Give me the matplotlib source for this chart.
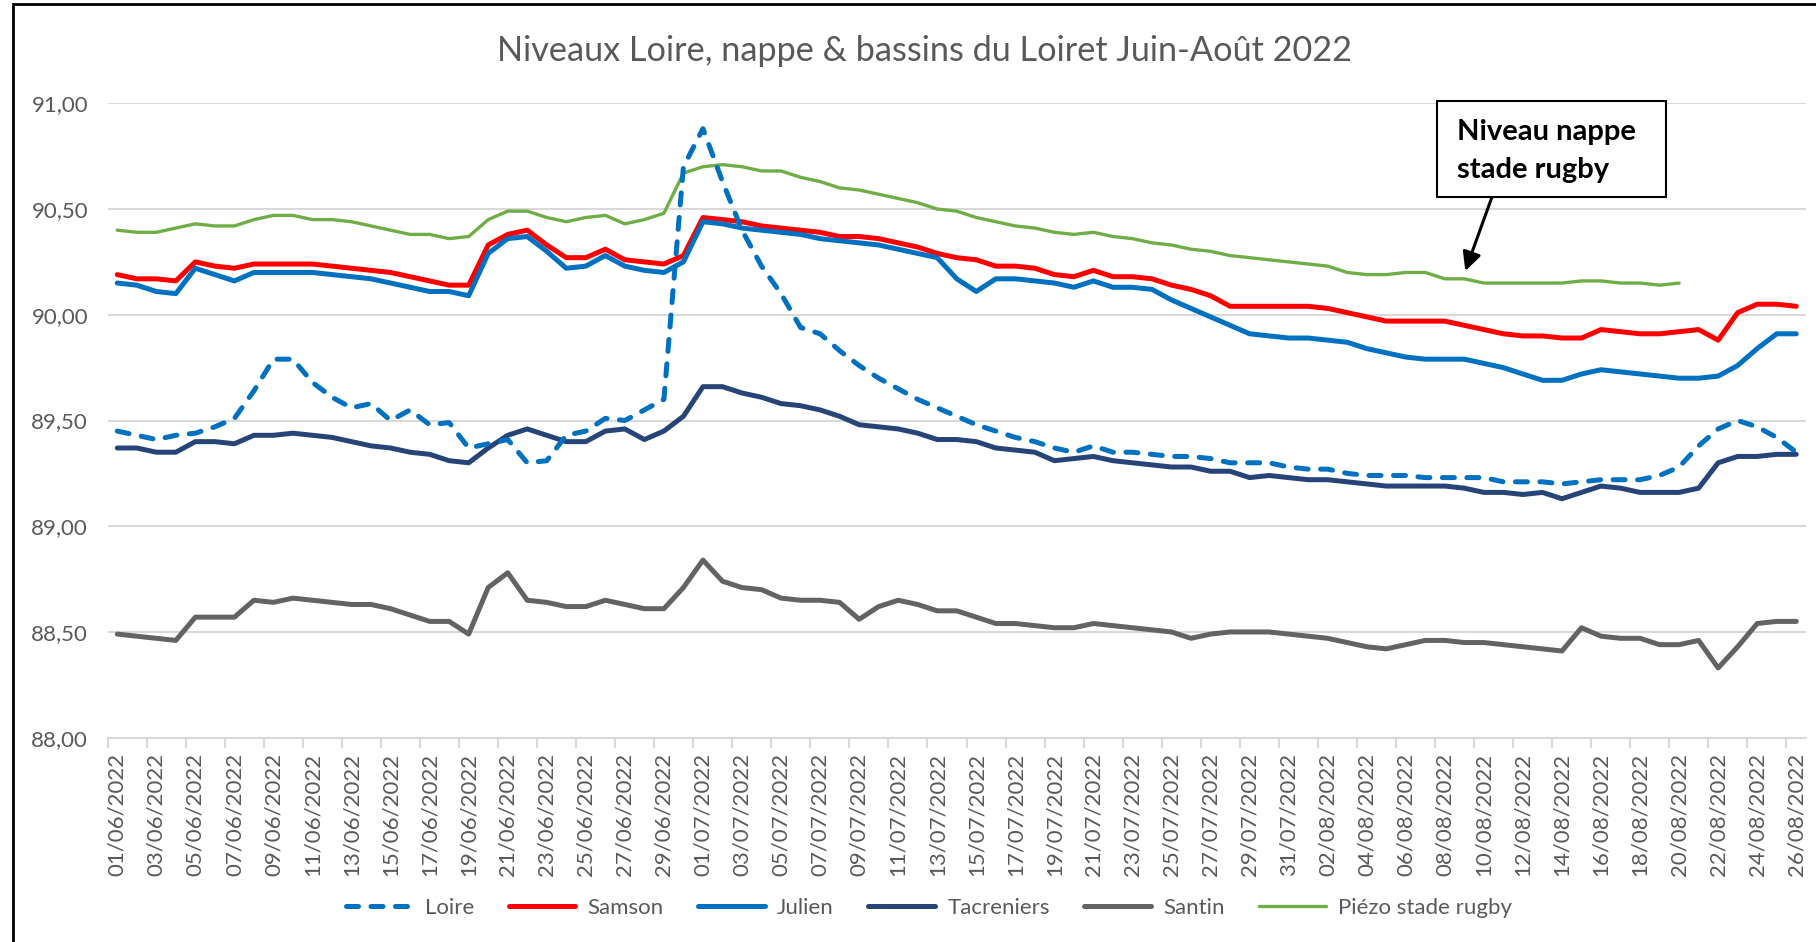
import matplotlib
matplotlib.use('Agg')
from matplotlib import pyplot as plt
from matplotlib.patches import Rectangle
import numpy as np
import pandas as pd

plt.rcParams['font.family'] = ['Lato', 'DejaVu Sans']

# Données (niveaux en m NGF), du 01/06/2022 au 26/08/2022
dates = pd.date_range('2022-06-01', '2022-08-26', freq='D')
date_labels = [d.strftime('%d/%m/%Y') for d in dates]

loire = [
    89.45, 89.43, 89.41, 89.43, 89.44, 89.47, 89.51, 89.64, 89.79, 89.79,
    89.68, 89.61, 89.56, 89.58, 89.50, 89.55, 89.48, 89.49, 89.37, 89.39,
    89.41, 89.30, 89.31, 89.43, 89.45, 89.51, 89.50, 89.55, 89.60, 90.70,
    90.88, 90.63, 90.40, 90.23, 90.10, 89.94, 89.91, 89.83, 89.76, 89.70,
    89.65, 89.60, 89.56, 89.52, 89.48, 89.45, 89.42, 89.40, 89.37, 89.35,
    89.38, 89.35, 89.35, 89.34, 89.33, 89.33, 89.32, 89.30, 89.30, 89.30,
    89.28, 89.27, 89.27, 89.25, 89.24, 89.24, 89.24, 89.23, 89.23, 89.23,
    89.23, 89.21, 89.21, 89.21, 89.20, 89.21, 89.22, 89.22, 89.22, 89.24,
    89.28, 89.38, 89.46, 89.50, 89.47, 89.42, 89.35]
samson = [
    90.19, 90.17, 90.17, 90.16, 90.25, 90.23, 90.22, 90.24, 90.24, 90.24,
    90.24, 90.23, 90.22, 90.21, 90.20, 90.18, 90.16, 90.14, 90.14, 90.33,
    90.38, 90.40, 90.33, 90.27, 90.27, 90.31, 90.26, 90.25, 90.24, 90.28,
    90.46, 90.45, 90.44, 90.42, 90.41, 90.40, 90.39, 90.37, 90.37, 90.36,
    90.34, 90.32, 90.29, 90.27, 90.26, 90.23, 90.23, 90.22, 90.19, 90.18,
    90.21, 90.18, 90.18, 90.17, 90.14, 90.12, 90.09, 90.04, 90.04, 90.04,
    90.04, 90.04, 90.03, 90.01, 89.99, 89.97, 89.97, 89.97, 89.97, 89.95,
    89.93, 89.91, 89.90, 89.90, 89.89, 89.89, 89.93, 89.92, 89.91, 89.91,
    89.92, 89.93, 89.88, 90.01, 90.05, 90.05, 90.04]
julien = [
    90.15, 90.14, 90.11, 90.10, 90.22, 90.19, 90.16, 90.20, 90.20, 90.20,
    90.20, 90.19, 90.18, 90.17, 90.15, 90.13, 90.11, 90.11, 90.09, 90.29,
    90.36, 90.37, 90.30, 90.22, 90.23, 90.28, 90.23, 90.21, 90.20, 90.25,
    90.44, 90.43, 90.41, 90.40, 90.39, 90.38, 90.36, 90.35, 90.34, 90.33,
    90.31, 90.29, 90.27, 90.17, 90.11, 90.17, 90.17, 90.16, 90.15, 90.13,
    90.16, 90.13, 90.13, 90.12, 90.07, 90.03, 89.99, 89.95, 89.91, 89.90,
    89.89, 89.89, 89.88, 89.87, 89.84, 89.82, 89.80, 89.79, 89.79, 89.79,
    89.77, 89.75, 89.72, 89.69, 89.69, 89.72, 89.74, 89.73, 89.72, 89.71,
    89.70, 89.70, 89.71, 89.76, 89.84, 89.91, 89.91]
tacreniers = [
    89.37, 89.37, 89.35, 89.35, 89.40, 89.40, 89.39, 89.43, 89.43, 89.44,
    89.43, 89.42, 89.40, 89.38, 89.37, 89.35, 89.34, 89.31, 89.30, 89.37,
    89.43, 89.46, 89.43, 89.40, 89.40, 89.45, 89.46, 89.41, 89.45, 89.52,
    89.66, 89.66, 89.63, 89.61, 89.58, 89.57, 89.55, 89.52, 89.48, 89.47,
    89.46, 89.44, 89.41, 89.41, 89.40, 89.37, 89.36, 89.35, 89.31, 89.32,
    89.33, 89.31, 89.30, 89.29, 89.28, 89.28, 89.26, 89.26, 89.23, 89.24,
    89.23, 89.22, 89.22, 89.21, 89.20, 89.19, 89.19, 89.19, 89.19, 89.18,
    89.16, 89.16, 89.15, 89.16, 89.13, 89.16, 89.19, 89.18, 89.16, 89.16,
    89.16, 89.18, 89.30, 89.33, 89.33, 89.34, 89.34]
santin = [
    88.49, 88.48, 88.47, 88.46, 88.57, 88.57, 88.57, 88.65, 88.64, 88.66,
    88.65, 88.64, 88.63, 88.63, 88.61, 88.58, 88.55, 88.55, 88.49, 88.71,
    88.78, 88.65, 88.64, 88.62, 88.62, 88.65, 88.63, 88.61, 88.61, 88.71,
    88.84, 88.74, 88.71, 88.70, 88.66, 88.65, 88.65, 88.64, 88.56, 88.62,
    88.65, 88.63, 88.60, 88.60, 88.57, 88.54, 88.54, 88.53, 88.52, 88.52,
    88.54, 88.53, 88.52, 88.51, 88.50, 88.47, 88.49, 88.50, 88.50, 88.50,
    88.49, 88.48, 88.47, 88.45, 88.43, 88.42, 88.44, 88.46, 88.46, 88.45,
    88.45, 88.44, 88.43, 88.42, 88.41, 88.52, 88.48, 88.47, 88.47, 88.44,
    88.44, 88.46, 88.33, 88.43, 88.54, 88.55, 88.55]
piezo = [
    90.40, 90.39, 90.39, 90.41, 90.43, 90.42, 90.42, 90.45, 90.47, 90.47,
    90.45, 90.45, 90.44, 90.42, 90.40, 90.38, 90.38, 90.36, 90.37, 90.45,
    90.49, 90.49, 90.46, 90.44, 90.46, 90.47, 90.43, 90.45, 90.48, 90.67,
    90.70, 90.71, 90.70, 90.68, 90.68, 90.65, 90.63, 90.60, 90.59, 90.57,
    90.55, 90.53, 90.50, 90.49, 90.46, 90.44, 90.42, 90.41, 90.39, 90.38,
    90.39, 90.37, 90.36, 90.34, 90.33, 90.31, 90.30, 90.28, 90.27, 90.26,
    90.25, 90.24, 90.23, 90.20, 90.19, 90.19, 90.20, 90.20, 90.17, 90.17,
    90.15, 90.15, 90.15, 90.15, 90.15, 90.16, 90.16, 90.15, 90.15, 90.14,
    90.15, None, None, None, None, None, None]

y_ticks = [88.0, 88.5, 89.0, 89.5, 90.0, 90.5, 91.0]

# Styles
GRIS = '#595959'
GRILLE = '#D9D9D9'
series = [
    ('Loire', loire, '#0070C0', 3.6, True),
    ('Samson', samson, '#FF0000', 3.6, False),
    ('Julien', julien, '#0070C0', 3.6, False),
    ('Tacreniers', tacreniers, '#264478', 3.6, False),
    ('Santin', santin, '#636363', 3.6, False),
    ('Piézo stade rugby', piezo, '#70AD47', 2.4, False),
]

fig = plt.figure(figsize=(18.16, 9.42), dpi=100)
ax = fig.add_axes([107.5/1816, 1 - 737.7/942, (1806 - 107.5)/1816, (737.7 - 103.3)/942])

x = np.arange(len(dates))
for name, vals, col, lw, dashed in series:
    y = np.array([np.nan if v is None else v for v in vals], dtype=float)
    if dashed:
        ax.plot(x, y, color=col, lw=lw, ls='--', dashes=(2.4, 2.5),
                dash_capstyle='round', label=name, zorder=4)
    else:
        ax.plot(x, y, color=col, lw=lw, solid_capstyle='round',
                solid_joinstyle='round', label=name, zorder=3)

ax.set_xlim(-0.5, len(dates) - 0.5)
ax.set_ylim(88, 91)
ax.set_yticks(y_ticks)
ax.set_yticklabels([f'{v:.2f}'.replace('.', ',') for v in y_ticks])
ax.set_xticks(x[::2])
ax.set_xticklabels(date_labels[::2], rotation=90, va='top', ha='center')
ax.set_xticks(np.arange(-0.5, len(dates) - 1, 2), minor=True)
ax.tick_params(axis='x', which='major', length=0, pad=11, labelsize=16, labelcolor=GRIS)
ax.tick_params(axis='x', which='minor', length=7, width=1.5, color=GRILLE)
ax.tick_params(axis='y', length=0, pad=14, labelsize=16, labelcolor=GRIS)
ax.grid(axis='y', color=GRILLE, lw=1.5, zorder=0)
ax.set_axisbelow(True)
for s in ['top', 'right', 'left']:
    ax.spines[s].set_visible(False)
ax.spines['bottom'].set_color(GRILLE)
ax.spines['bottom'].set_linewidth(1.5)

fig.text(0.509, 1 - 61/942, 'Niveaux Loire, nappe & bassins du Loiret Juin-Août 2022',
         ha='center', va='baseline', fontsize=24.7, color=GRIS)

leg = fig.legend(loc='center', bbox_to_anchor=(0.5116, 1 - 908/942), ncol=6,
                 frameon=False, fontsize=16, handlelength=3.0, handletextpad=0.55,
                 columnspacing=1.55)
for t in leg.get_texts():
    t.set_color(GRIS)

# Encadré + flèche
fig.patches.append(Rectangle((1437/1816, 1 - 197/942), (1666 - 1437)/1816, (197 - 101)/942,
                             transform=fig.transFigure, fill=True, facecolor='white',
                             edgecolor='black', lw=1.5, zorder=5))
fig.text(1457/1816, 1 - 132/942, 'Niveau nappe', fontsize=21, fontweight='bold',
         va='center', ha='left', zorder=6)
fig.text(1457/1816, 1 - 170/942, 'stade rugby', fontsize=21, fontweight='bold',
         va='center', ha='left', zorder=6)
ax.annotate('', xy=(69, 90.195), xytext=(70.45, 90.566),
            arrowprops=dict(arrowstyle='-|>', color='black', lw=2.2, mutation_scale=28))

# Cadre du graphique
fig.patches.append(Rectangle((13/1816, -0.1), 1.2, 1.1 - 4/942, transform=fig.transFigure,
                             fill=False, edgecolor='black', lw=2))

fig.savefig('out.png', dpi=100)
